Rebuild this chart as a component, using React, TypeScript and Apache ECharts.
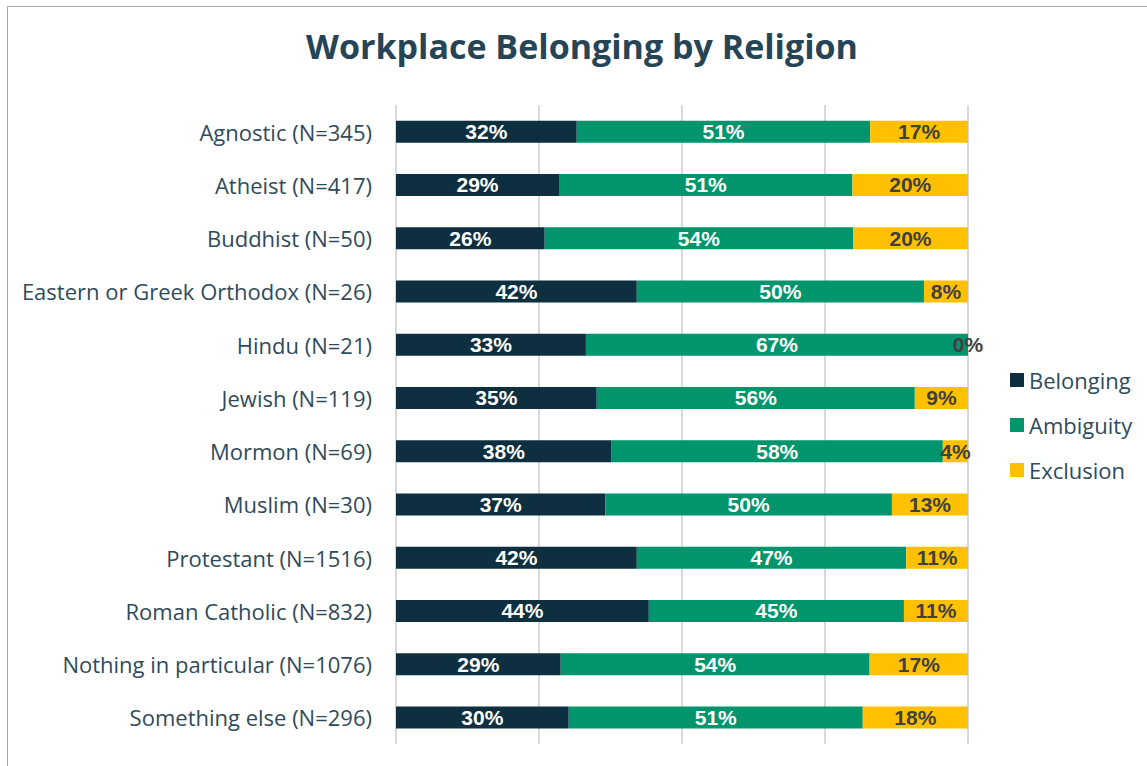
import React, { useEffect, useRef } from "react";
import * as echarts from "echarts";

const categories = [
  "Agnostic (N=345)",
  "Atheist (N=417)",
  "Buddhist (N=50)",
  "Eastern or Greek Orthodox (N=26)",
  "Hindu (N=21)",
  "Jewish (N=119)",
  "Mormon (N=69)",
  "Muslim (N=30)",
  "Protestant (N=1516)",
  "Roman Catholic (N=832)",
  "Nothing in particular (N=1076)",
  "Something else (N=296)",
];
const belonging = [31.6, 28.5, 26.0, 42.1, 33.2, 35.1, 37.7, 36.6, 42.1, 44.2, 28.8, 30.2];
const ambiguity = [51.3, 51.3, 53.9, 50.2, 66.8, 55.6, 57.9, 50.1, 47.1, 44.6, 54.0, 51.4];
const exclusion = [17.1, 20.2, 20.1, 7.7, 0.0, 9.3, 4.4, 13.3, 10.8, 11.2, 17.2, 18.4];
const seriesNames = ["Belonging", "Ambiguity", "Exclusion"];
const colors = ["#0e2f40", "#00956c", "#ffc000"];
const labelColors = ["#ffffff", "#ffffff", "#404040"];

export default function App() {
  const ref = useRef<HTMLDivElement>(null);
  useEffect(() => {
    if (!ref.current) return;
    const chart = echarts.init(ref.current, undefined, { renderer: "svg" });
    const datasets = [belonging, ambiguity, exclusion];
    chart.setOption({
      animation: false,
      backgroundColor: "#ffffff",
      title: {
        text: "Workplace Belonging by Religion",
        left: 582,
        top: 29,
        padding: 0,
        textAlign: "center",
        textStyle: {
          fontFamily: "Open Sans",
          fontSize: 34,
          fontWeight: "bold",
          color: "#254556",
        },
      },
      graphic: [
        {
          type: "rect",
          shape: { x: 7.5, y: 6.5, width: 1150, height: 770 },
          style: { fill: "none", stroke: "#a6a6a6", lineWidth: 1 },
          silent: true,
        },
      ],
      legend: {
        orient: "vertical",
        left: 1010,
        top: 367,
        padding: 0,
        itemWidth: 14,
        itemHeight: 14,
        itemGap: 19,
        icon: "rect",
        data: seriesNames,
        textStyle: {
          fontFamily: "Open Sans",
          fontSize: 22,
          color: "#2f4b5b",
          lineHeight: 26,
        },
      },
      grid: { left: 396, right: 179, top: 105, bottom: 22, containLabel: false },
      xAxis: {
        type: "value",
        min: 0,
        max: 100,
        interval: 25,
        axisLabel: { show: false },
        axisLine: { show: false },
        axisTick: { show: false },
        splitLine: { show: true, lineStyle: { color: "#d9d9d9", width: 2 } },
      },
      yAxis: {
        type: "category",
        inverse: true,
        data: categories,
        axisLine: { show: false },
        axisTick: { show: false },
        axisLabel: {
          margin: 24,
          fontFamily: "Open Sans",
          fontSize: 22,
          color: "#2f4b5b",
        },
      },
      series: seriesNames.map((name, i) => ({
        name,
        type: "bar",
        stack: "total",
        barWidth: 22,
        data: datasets[i],
        itemStyle: { color: colors[i] },
        label: {
          show: true,
          position: "inside",
          formatter: (p: any) => Math.round(p.value) + "%",
          fontFamily: "Liberation Sans",
          fontWeight: "bold",
          fontSize: 21,
          color: labelColors[i],
        },
      })),
    });
    return () => chart.dispose();
  }, []);
  return (
    <div
      ref={ref}
      style={{ position: "fixed", left: 0, top: 0, width: 1147, height: 766 }}
    />
  );
}
